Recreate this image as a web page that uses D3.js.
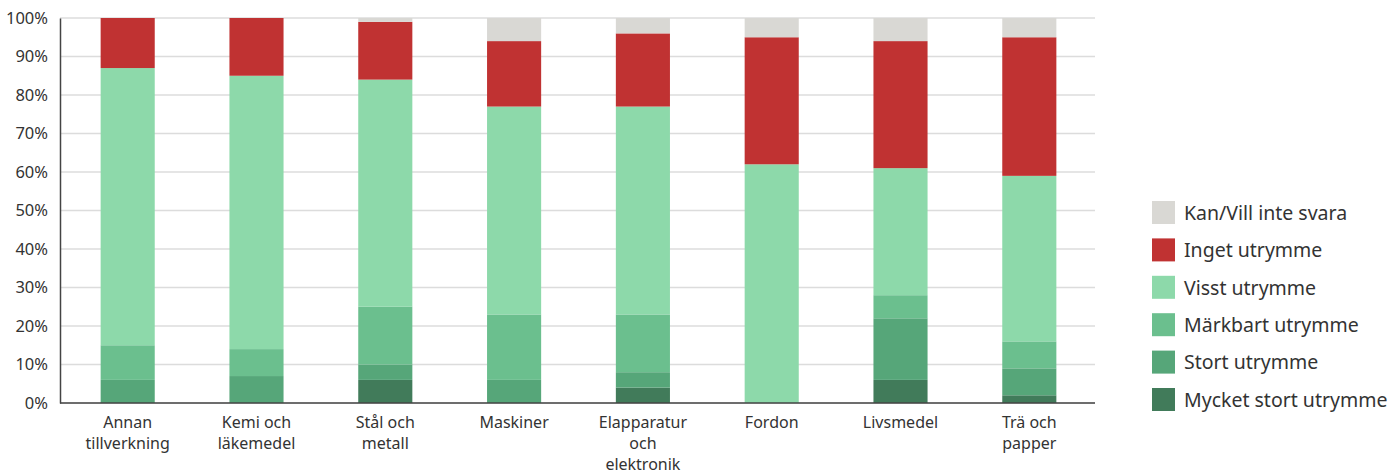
<!DOCTYPE html>
<html>
<head>
<meta charset="utf-8">
<script src="https://cdn.jsdelivr.net/npm/d3@7"></script>
<style>
  body { margin: 0; background: #fff; }
  text { font-family: "Noto Sans", "Open Sans", sans-serif; fill: #333; }
</style>
</head>
<body>
<div id="chart"></div>
<script>
var width = 1397,
    height = 474

var categories = ["Annan tillverkning", "Kemi och läkemedel", "Stål och metall", "Maskiner",
                  "Elapparatur och elektronik", "Fordon", "Livsmedel", "Trä och papper"]
// rader i etiketterna
var labelLines = [["Annan", "tillverkning"], ["Kemi och", "läkemedel"], ["Stål och", "metall"], ["Maskiner"],
                  ["Elapparatur", "och", "elektronik"], ["Fordon"], ["Livsmedel"], ["Trä och", "papper"]]

var seriesNames = ["Mycket stort utrymme", "Stort utrymme", "Märkbart utrymme", "Visst utrymme", "Inget utrymme", "Kan/Vill inte svara"]
var mycketStort = [0, 0, 6, 0, 4, 0, 6, 2]
var stort       = [6, 7, 4, 6, 4, 0, 16, 7]
var markbart    = [9, 7, 15, 17, 15, 0, 6, 7]
var visst       = [72, 71, 59, 54, 54, 62, 33, 43]
var inget       = [13, 15, 15, 17, 19, 33, 33, 36]
var kanVill     = [0, 0, 1, 6, 4, 5, 6, 5]
var colors = ["#417b5a", "#56a679", "#6bbf8e", "#8dd9aa", "#c03232", "#d9d8d4"]

var yTicks = [0, 10, 20, 30, 40, 50, 60, 70, 80, 90, 100]

var seriesValues = [mycketStort, stort, markbart, visst, inget, kanVill]
var rows = categories.map(function(c, i) {
  var r = { cat: c }
  seriesNames.forEach(function(s, j) { r[s] = seriesValues[j][i] })
  return r
})

var margin = { left: 60, right: 302, top: 18, bottom: 71 }

var svg = d3.select("#chart")
  .append("svg")
    .attr("width", width)
    .attr("height", height)

var x = d3.scaleBand()
  .domain(categories)
  .range([62, width - margin.right])
  .paddingInner(0.58)
  .paddingOuter(0.3)

var y = d3.scaleLinear()
  .domain([0, 100])
  .range([height - margin.bottom, margin.top])

// rutnät
svg.append("g")
  .selectAll("line")
  .data(yTicks)
  .enter()
  .append("line")
    .attr("x1", margin.left)
    .attr("x2", width - margin.right)
    .attr("y1", function(d) { return y(d) })
    .attr("y2", function(d) { return y(d) })
    .attr("stroke", "#dcdcdc")
    .attr("stroke-width", 1.5)

// staplar
var stack = d3.stack().keys(seriesNames)
var stacked = stack(rows)

svg.append("g")
  .selectAll("g")
  .data(stacked)
  .enter()
  .append("g")
    .attr("fill", function(d, i) { return colors[i] })
  .selectAll("rect")
  .data(function(d) { return d })
  .enter()
  .append("rect")
    .attr("x", function(d) { return x(d.data.cat) })
    .attr("width", x.bandwidth())
    .attr("y", function(d) { return y(d[1]) })
    .attr("height", function(d) { return y(d[0]) - y(d[1]) })

// y-axel
var yAxis = svg.append("g")
  .attr("transform", "translate(" + margin.left + ",0)")
  .call(d3.axisLeft(y).tickValues(yTicks).tickSize(0).tickPadding(12)
    .tickFormat(function(d) { return d + "%" }))
yAxis.select(".domain").attr("stroke", "#444").attr("stroke-width", 1.5)
yAxis.selectAll("text").style("font-size", "16.5px").attr("fill", "#333")

// x-axel
var xAxisG = svg.append("g")
  .attr("transform", "translate(0," + y(0) + ")")
xAxisG.append("line")
  .attr("x1", margin.left)
  .attr("x2", width - margin.right)
  .attr("stroke", "#444")
  .attr("stroke-width", 1.5)

xAxisG.selectAll("text.lbl")
  .data(categories)
  .enter()
  .append("text")
    .attr("class", "lbl")
    .attr("text-anchor", "middle")
    .attr("x", function(d) { return x(d) + x.bandwidth() / 2 })
    .attr("y", 25)
    .style("font-size", "16px")
    .each(function(d, i) {
      var t = d3.select(this)
      labelLines[i].forEach(function(l, k) {
        t.append("tspan")
          .attr("x", x(d) + x.bandwidth() / 2)
          .attr("dy", k === 0 ? 0 : 21)
          .text(l)
      })
    })

// legend
var legendItems = seriesNames.slice().reverse()
var legendColors = colors.slice().reverse()
var legend = svg.append("g")
  .attr("transform", "translate(1152,201)")

legend.selectAll("rect")
  .data(legendItems)
  .enter()
  .append("rect")
    .attr("x", 0)
    .attr("y", function(d, i) { return i * 37.4 })
    .attr("width", 23)
    .attr("height", 23)
    .attr("fill", function(d, i) { return legendColors[i] })

legend.selectAll("text")
  .data(legendItems)
  .enter()
  .append("text")
    .attr("x", 32)
    .attr("y", function(d, i) { return i * 37.4 + 12 })
    .attr("dy", "0.35em")
    .style("font-size", "19.5px")
    .text(function(d) { return d })
</script>
</body>
</html>
